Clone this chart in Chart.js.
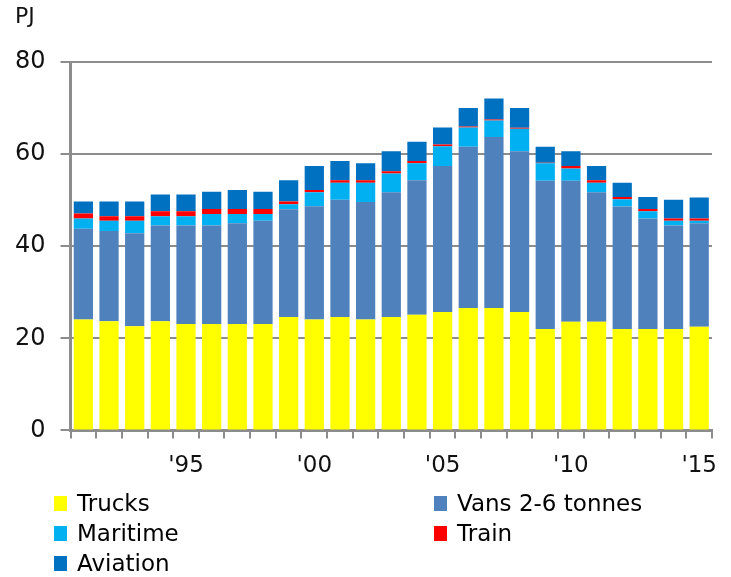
<!DOCTYPE html>
<html lang="en">
<head>
    <meta charset="UTF-8">
    <title>Freight transport energy use</title>
    <style>
        body {
            margin: 0;
            background: #fff;
            font-family: "DejaVu Sans", Verdana, sans-serif;
        }

        #wrap {
            position: relative;
            width: 731px;
            height: 577px;
        }

        #unit {
            position: absolute;
            left: 15px;
            top: 3px;
            font-size: 22px;
            color: #111;
        }

        #chartBox {
            position: absolute;
            left: 0;
            top: 0;
            width: 731px;
            height: 494px;
        }

        #legend {
            position: absolute;
            left: 54px;
            top: 488px;
            width: 677px;
            display: grid;
            grid-template-columns: 380px 297px;
            grid-auto-rows: 30px;
        }

        .item {
            display: flex;
            align-items: center;
            font-size: 23px;
            color: #000;
            white-space: nowrap;
        }

        .swatch {
            width: 13px;
            height: 15px;
            margin-right: 10px;
            flex: none;
        }
    </style>
</head>
<body>
    <div id="wrap">
        <div id="chartBox"><canvas id="chart"></canvas></div>
        <div id="unit">PJ</div>
        <div id="legend"></div>
    </div>
    <script src="https://cdn.jsdelivr.net/npm/chart.js"></script>
    <script>
        const years = [1991, 1992, 1993, 1994, 1995, 1996, 1997, 1998, 1999, 2000,
                       2001, 2002, 2003, 2004, 2005, 2006, 2007, 2008, 2009, 2010,
                       2011, 2012, 2013, 2014, 2015];

        const trucks   = [24.1, 23.7, 22.6, 23.7, 23.1, 23.1, 23.1, 23.1, 24.6, 24.1,
                          24.6, 24.1, 24.6, 25.1, 25.7, 26.6, 26.6, 25.7, 22.0, 23.6,
                          23.6, 22.0, 22.0, 22.0, 22.5];
        const vans     = [19.7, 19.6, 20.2, 20.8, 21.4, 21.4, 21.9, 22.4, 23.4, 24.6,
                          25.5, 25.5, 27.1, 29.2, 31.7, 35.0, 37.1, 34.9, 32.2, 30.6,
                          28.1, 26.6, 24.0, 22.5, 22.5];
        const maritime = [2.2, 2.2, 2.7, 2.0, 2.0, 2.5, 2.0, 1.5, 1.1, 3.0,
                          3.7, 4.2, 4.1, 3.7, 4.3, 4.2, 3.6, 4.9, 3.8, 2.7,
                          2.1, 1.6, 1.6, 1.0, 0.5];
        const train    = [1.1, 1.0, 1.0, 1.1, 1.1, 1.1, 1.1, 1.1, 0.6, 0.5,
                          0.5, 0.5, 0.5, 0.5, 0.4, 0.2, 0.2, 0.2, 0.1, 0.5,
                          0.5, 0.5, 0.5, 0.5, 0.5];
        const aviation = [2.6, 3.2, 3.2, 3.6, 3.6, 3.7, 4.1, 3.7, 4.6, 5.2,
                          4.2, 3.7, 4.3, 4.2, 3.7, 4.0, 4.6, 4.3, 3.5, 3.2,
                          3.1, 3.1, 2.6, 4.1, 4.6];

        const yTicks = [0, 20, 40, 60, 80];

        const seriesNames  = ['Trucks', 'Vans 2-6 tonnes', 'Maritime', 'Train', 'Aviation'];
        const seriesColors = ['#FFFF00', '#4F81BD', '#00B0F0', '#FF0000', '#0070C0'];
        const seriesData   = [trucks, vans, maritime, train, aviation];

        const datasets = seriesNames.map((name, i) => ({
            label: name,
            data: seriesData[i],
            backgroundColor: seriesColors[i],
            stack: 'all',
            categoryPercentage: 0.75,
            barPercentage: 1.0
        }));

        const axisGray = '#8c8c8c';
        const fontFamily = '"DejaVu Sans", Verdana, sans-serif';

        new Chart(document.getElementById('chart'), {
            type: 'bar',
            data: { labels: years, datasets: datasets },
            options: {
                responsive: true,
                maintainAspectRatio: false,
                animation: false,
                layout: { padding: { left: 0, right: 0, top: 62, bottom: 0 } },
                plugins: {
                    legend: { display: false },
                    tooltip: { enabled: false }
                },
                scales: {
                    x: {
                        stacked: true,
                        grid: {
                            offset: true,
                            drawOnChartArea: false,
                            color: axisGray,
                            lineWidth: 2,
                            tickLength: 8
                        },
                        border: { color: axisGray, width: 3 },
                        ticks: {
                            autoSkip: false,
                            maxRotation: 0,
                            color: '#111',
                            padding: 14,
                            font: { family: fontFamily, size: 23 },
                            callback: function (value, index) {
                                const y = years[index];
                                return y % 5 === 0 ? "'" + String(y).slice(2) : '';
                            }
                        }
                    },
                    y: {
                        stacked: true,
                        min: 0,
                        max: 80,
                        afterBuildTicks: axis => {
                            axis.ticks = yTicks.map(v => ({ value: v }));
                        },
                        grid: {
                            color: axisGray,
                            lineWidth: 2,
                            tickLength: 10
                        },
                        border: { color: axisGray, width: 3 },
                        ticks: {
                            color: '#111',
                            padding: 15,
                            font: { family: fontFamily, size: 24 }
                        }
                    }
                }
            }
        });

        const legend = document.getElementById('legend');
        seriesNames.forEach((name, i) => {
            const item = document.createElement('div');
            item.className = 'item';
            item.innerHTML = '<span class="swatch" style="background:' + seriesColors[i] + '"></span>' + name;
            legend.appendChild(item);
        });
    </script>
</body>
</html>
